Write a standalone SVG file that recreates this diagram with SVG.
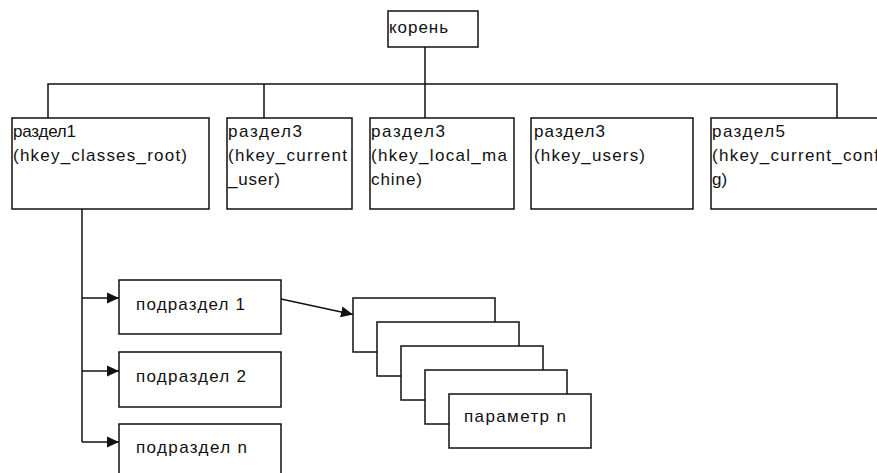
<svg xmlns="http://www.w3.org/2000/svg" width="877" height="473" viewBox="0 0 877 473">
<style>
.box{fill:#fff;stroke:#111;stroke-width:1.5}
.ln{fill:none;stroke:#111;stroke-width:1.5}
text{font-family:"Liberation Sans",Arial,sans-serif;font-size:17px;fill:#111}
</style>
<defs>
<marker id="ah" viewBox="0 0 12 12" refX="12" refY="6" markerWidth="12" markerHeight="12" markerUnits="userSpaceOnUse" orient="auto">
<path d="M0,0.5 L12,6 L0,11.5 z" fill="#111"/>
</marker>
</defs>
<rect width="877" height="473" fill="#fff"/>
<g id="connectors">
<path class="ln" d="M425,47 V118"/>
<path class="ln" d="M48,118 V84 H837 V118"/>
<path class="ln" d="M264,84 V118"/>
<path class="ln" d="M82,209 V442"/>
<path class="ln" d="M82,298 H119" marker-end="url(#ah)"/>
<path class="ln" d="M82,371 H119" marker-end="url(#ah)"/>
<path class="ln" d="M82,442 H119" marker-end="url(#ah)"/>
<path class="ln" d="M281,299 L353,314.5" marker-end="url(#ah)"/>
</g>
<g id="root">
<rect class="box" x="388" y="11" width="90" height="36"/>
<text x="389" y="33" textLength="59">корень</text>
</g>
<g id="razdel1">
<rect class="box" x="12" y="118" width="197" height="91"/>
<text x="13" y="137" textLength="63">раздел1</text>
<text x="13" y="161" textLength="174">(hkey_classes_root)</text>
</g>
<g id="razdel3a">
<rect class="box" x="227" y="118" width="125" height="91"/>
<text x="228" y="137" textLength="74">раздел3</text>
<text x="228" y="161" textLength="119">(hkey_current</text>
<text x="228" y="185" textLength="52">_user)</text>
</g>
<g id="razdel3b">
<rect class="box" x="370" y="118" width="144" height="91"/>
<text x="371" y="137" textLength="74">раздел3</text>
<text x="371" y="161" textLength="136">(hkey_local_ma</text>
<text x="371" y="185" textLength="51">chine)</text>
</g>
<g id="razdel3c">
<rect class="box" x="531" y="118" width="162" height="91"/>
<text x="534" y="137" textLength="71">раздел3</text>
<text x="534" y="161" textLength="111">(hkey_users)</text>
</g>
<g id="razdel5">
<rect class="box" x="711" y="118" width="200" height="91"/>
<text x="712" y="137" textLength="73">раздел5</text>
<text x="712" y="161" textLength="172">(hkey_current_confi</text>
<text x="712" y="185">g)</text>
</g>
<g id="podrazdel1">
<rect class="box" x="119" y="280" width="162" height="54"/>
<text x="136" y="310" textLength="109">подраздел 1</text>
</g>
<g id="podrazdel2">
<rect class="box" x="119" y="352" width="162" height="55"/>
<text x="136" y="382" textLength="110">подраздел 2</text>
</g>
<g id="podrazdeln">
<rect class="box" x="119" y="424" width="162" height="55"/>
<text x="136" y="453" textLength="111">подраздел n</text>
</g>
<g id="param1"><rect class="box" x="353" y="298" width="142" height="54"/></g>
<g id="param2"><rect class="box" x="377" y="322" width="142" height="54"/></g>
<g id="param3"><rect class="box" x="401" y="346" width="142" height="54"/></g>
<g id="param4"><rect class="box" x="425" y="370" width="142" height="54"/></g>
<g id="paramn">
<rect class="box" x="449" y="394" width="142" height="54"/>
<text x="464" y="422" textLength="102">параметр n</text>
</g>
</svg>
